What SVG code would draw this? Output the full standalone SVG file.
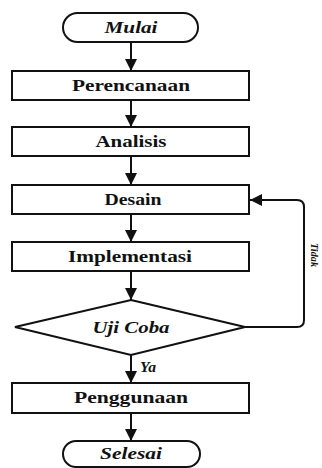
<svg xmlns="http://www.w3.org/2000/svg" width="322" height="468" viewBox="0 0 322 468">
<style>
.s{fill:#fff;stroke:#111;stroke-width:2}
.t{font-family:"Liberation Serif","Times New Roman",serif;font-weight:bold;font-size:16px;fill:#111;text-anchor:middle}
.i{font-style:italic}
.c{fill:none;stroke:#111;stroke-width:2}
</style>
<defs>
<marker id="a" viewBox="0 0 10 10" refX="10" refY="5" markerWidth="6" markerHeight="6" orient="auto" markerUnits="strokeWidth">
<path d="M0,0 L10,5 L0,10 Z" fill="#111"/>
</marker>
</defs>
<g id="connectors">
<line class="c" x1="131" y1="42" x2="131" y2="71" marker-end="url(#a)"/>
<line class="c" x1="131" y1="100" x2="131" y2="127" marker-end="url(#a)"/>
<line class="c" x1="131" y1="156" x2="131" y2="185" marker-end="url(#a)"/>
<line class="c" x1="131" y1="214" x2="131" y2="242" marker-end="url(#a)"/>
<line class="c" x1="131" y1="271" x2="131" y2="300" marker-end="url(#a)"/>
<line class="c" x1="131" y1="355" x2="131" y2="383" marker-end="url(#a)"/>
<line class="c" x1="131" y1="413" x2="131" y2="441" marker-end="url(#a)"/>
<path class="c" d="M245,327 H297 Q304,327 304,320 V207 Q304,200 297,200 H250" marker-end="url(#a)"/>
<text class="t i" x="148" y="372" style="font-size:14px" textLength="16" lengthAdjust="spacingAndGlyphs">Ya</text>
<text class="t i" transform="translate(311,255) rotate(90)" style="font-size:11px" textLength="24" lengthAdjust="spacingAndGlyphs">Tidak</text>
</g>
<g id="mulai">
<rect class="s" x="63" y="13" width="135" height="29" rx="14.5"/>
<text class="t i" x="131" y="33" textLength="53" lengthAdjust="spacingAndGlyphs">Mulai</text>
</g>
<g id="perencanaan">
<rect class="s" x="12" y="71" width="237" height="29"/>
<text class="t" x="131" y="91" textLength="118" lengthAdjust="spacingAndGlyphs">Perencanaan</text>
</g>
<g id="analisis">
<rect class="s" x="12" y="127" width="237" height="29"/>
<text class="t" x="131" y="147" textLength="71" lengthAdjust="spacingAndGlyphs">Analisis</text>
</g>
<g id="desain">
<rect class="s" x="12" y="185" width="237" height="29"/>
<text class="t" x="133" y="205" textLength="57" lengthAdjust="spacingAndGlyphs">Desain</text>
</g>
<g id="implementasi">
<rect class="s" x="12" y="242" width="237" height="29"/>
<text class="t" x="130" y="262" textLength="124" lengthAdjust="spacingAndGlyphs">Implementasi</text>
</g>
<g id="ujicoba">
<polygon class="s" points="131,300 245,327 131,355 15,327"/>
<text class="t i" x="131" y="333" textLength="77" lengthAdjust="spacingAndGlyphs">Uji Coba</text>
</g>
<g id="penggunaan">
<rect class="s" x="12" y="383" width="237" height="30"/>
<text class="t" x="131" y="403" textLength="114" lengthAdjust="spacingAndGlyphs">Penggunaan</text>
</g>
<g id="selesai">
<rect class="s" x="63" y="441" width="137" height="26" rx="13"/>
<text class="t i" x="131" y="459" textLength="62" lengthAdjust="spacingAndGlyphs">Selesai</text>
</g>
</svg>
